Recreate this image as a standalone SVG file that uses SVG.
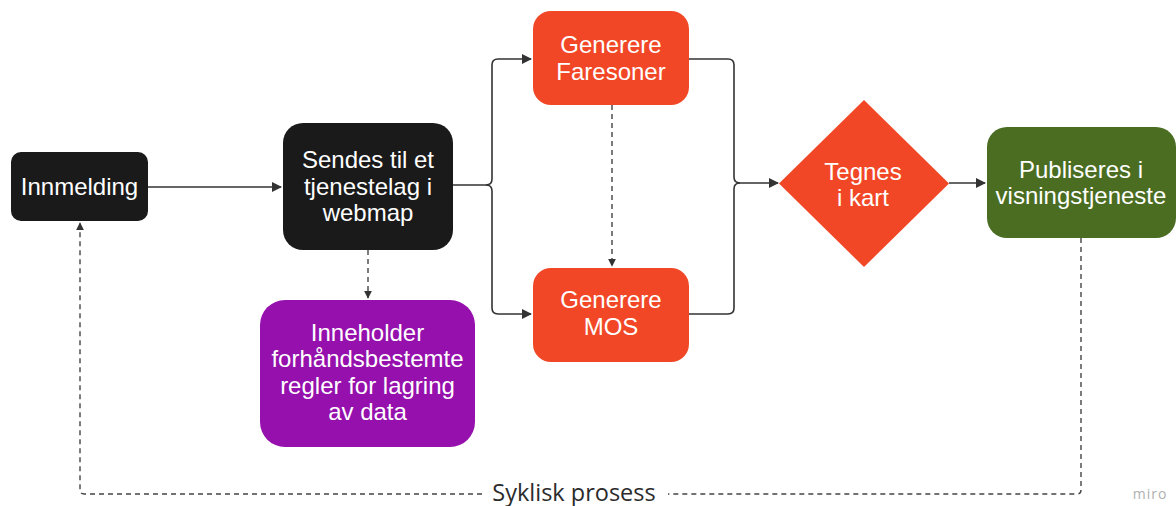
<svg xmlns="http://www.w3.org/2000/svg" width="1176" height="506" viewBox="0 0 1176 506">
<defs>
<marker id="arr" viewBox="0 0 10 10" refX="9" refY="5" markerWidth="10" markerHeight="10" markerUnits="userSpaceOnUse" orient="auto">
<path d="M0,0 L10,5 L0,10 z" fill="#333"/>
</marker>
<marker id="arrs" viewBox="0 0 10 10" refX="9" refY="5" markerWidth="8" markerHeight="8" markerUnits="userSpaceOnUse" orient="auto">
<path d="M0,0 L10,5 L0,10 z" fill="#333"/>
</marker>
</defs>
<style>
.lbl{font-family:"Liberation Sans",Arial,sans-serif;font-size:24px;fill:#ffffff;text-anchor:middle}
.conn{fill:none;stroke:#333;stroke-width:1.6}
.dash{fill:none;stroke:#444;stroke-width:1.4;stroke-dasharray:5 4}
.black{fill:#1a1a1a}
.orange{fill:#f24726}
.purple{fill:#9510ac}
.green{fill:#4a6d22}
</style>
<rect width="1176" height="506" fill="#ffffff"/>
<g id="connectors">
<path class="conn" d="M148,187 L281,187" marker-end="url(#arr)"/>
<path class="conn" d="M453,185 L486,185 Q492,185 492,179 L492,65 Q492,59 498,59 L531,59" marker-end="url(#arr)"/>
<path class="conn" d="M486,185 Q492,185 492,191 L492,308 Q492,314 498,314 L531,314" marker-end="url(#arr)"/>
<path class="conn" d="M689,59 L728,59 Q734,59 734,65 L734,177 Q734,183 740,183 L778,183" marker-end="url(#arr)"/>
<path class="conn" d="M689,314 L728,314 Q734,314 734,308 L734,189 Q734,183 740,183"/>
<path class="conn" d="M949,183 L985,183" marker-end="url(#arr)"/>
<path class="dash" d="M612,105 L612,266" marker-end="url(#arrs)"/>
<path class="dash" d="M368,250 L368,298" marker-end="url(#arrs)"/>
<path class="dash" d="M1081,238 L1081,490 Q1081,494 1077,494 L668,494"/>
<path class="dash" d="M482,494 L84,494 Q80,494 80,490 L80,223" marker-end="url(#arrs)"/>
<text x="574" y="501" font-family="'Open Sans','Noto Sans',sans-serif" font-size="23.5" fill="#2b2b2b" text-anchor="middle">Syklisk prosess</text>
</g>
<g id="innmelding">
<rect class="black" x="11" y="152" width="137" height="69" rx="10"/>
<text class="lbl" x="79.5" y="195">Innmelding</text>
</g>
<g id="sendes">
<rect class="black" x="283" y="123" width="170" height="127" rx="20"/>
<text class="lbl" x="368" y="168">Sendes til et</text>
<text class="lbl" x="368" y="195">tjenestelag i</text>
<text class="lbl" x="368" y="221">webmap</text>
</g>
<g id="inneholder">
<rect class="purple" x="260" y="300" width="215" height="147" rx="25"/>
<text class="lbl" x="367.5" y="341">Inneholder</text>
<text class="lbl" x="367.5" y="367">forhåndsbestemte</text>
<text class="lbl" x="367.5" y="394">regler for lagring</text>
<text class="lbl" x="367.5" y="420">av data</text>
</g>
<g id="faresoner">
<rect class="orange" x="533" y="11" width="156" height="94" rx="18"/>
<text class="lbl" x="611" y="53">Generere</text>
<text class="lbl" x="611" y="80">Faresoner</text>
</g>
<g id="mos">
<rect class="orange" x="533" y="268" width="156" height="94" rx="18"/>
<text class="lbl" x="611" y="308">Generere</text>
<text class="lbl" x="611" y="335">MOS</text>
</g>
<g id="tegnes">
<polygon class="orange" points="864,100 949,183.5 864,267 779,183.5"/>
<text class="lbl" x="863" y="180">Tegnes</text>
<text class="lbl" x="863" y="206">i kart</text>
</g>
<g id="publiseres">
<rect class="green" x="987" y="127" width="189" height="111" rx="20"/>
<text class="lbl" x="1081" y="178">Publiseres i</text>
<text class="lbl" x="1081" y="204">visningstjeneste</text>
</g>
<text x="1150" y="499" font-family="'Open Sans','Noto Sans',sans-serif" font-size="14" fill="#b0b0b0" text-anchor="middle" letter-spacing="1">miro</text>
</svg>
